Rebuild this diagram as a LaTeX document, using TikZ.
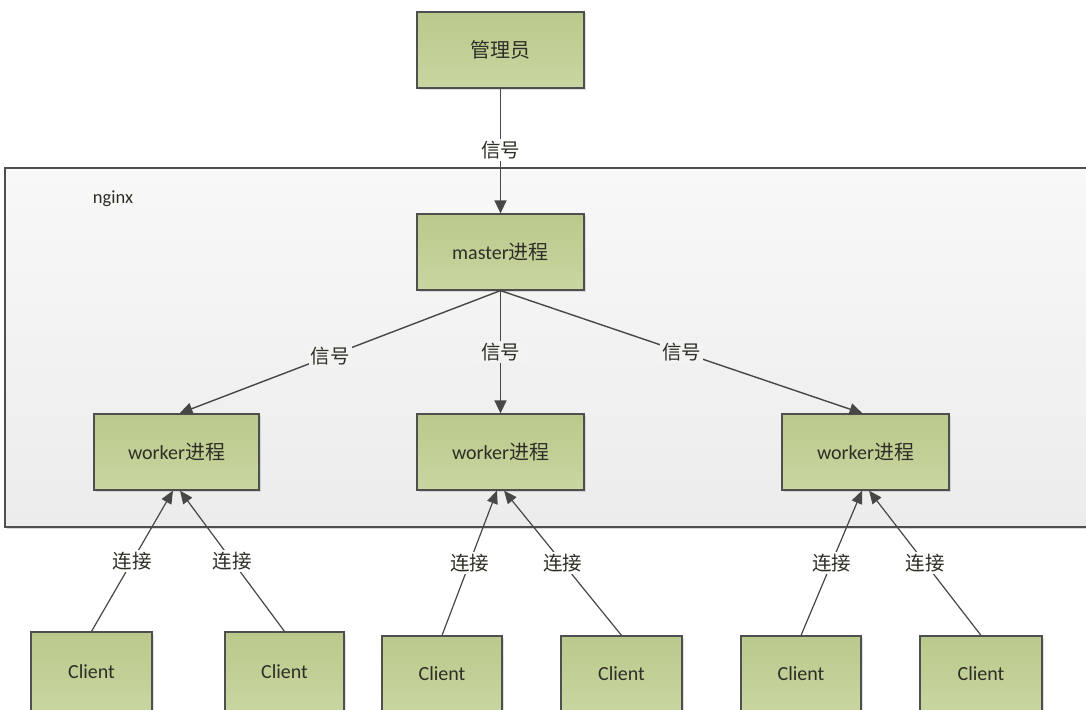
\documentclass[tikz,border=0pt]{standalone}
\usepackage{fontspec}
\setmainfont{Carlito}
\newfontfamily\cjk{Noto Sans CJK SC}
\usetikzlibrary{arrows.meta,shadows}
\definecolor{boxtop}{HTML}{BAC98B}
\definecolor{boxbot}{HTML}{C8D6A1}
\definecolor{boxline}{HTML}{4F4F4F}
\definecolor{lineclr}{HTML}{474747}
\definecolor{txt}{HTML}{2E2E26}
\definecolor{frametop}{HTML}{F8F8F8}
\definecolor{framebot}{HTML}{ECECEC}
\definecolor{framemid}{HTML}{F3F3F3}
\tikzset{
  box/.style={draw=boxline, line width=1.2pt, top color=boxtop, bottom color=boxbot,
    minimum height=76pt, inner sep=0pt, font=\fontsize{20}{22}\selectfont, text=txt,
    drop shadow={shadow xshift=1.5pt, shadow yshift=-1.5pt, opacity=0.25}},
  frame/.style={draw=boxline, line width=1.2pt, top color=frametop, bottom color=framebot,
    inner sep=0pt, drop shadow={shadow xshift=1.5pt, shadow yshift=-2pt, opacity=0.3}},
  sig/.style={draw=lineclr, line width=1.4pt, -{Triangle[length=13pt,width=12pt]}},
  conn/.style={draw=lineclr, line width=1.2pt, -{Triangle[length=13pt,width=11pt]}},
  lbl/.style={font=\fontsize{19.5}{22}\selectfont\cjk, text=txt, inner sep=2pt},
}
\begin{document}
\begin{tikzpicture}[x=1pt,y=-1pt]
\useasboundingbox (0,0) rectangle (1086,709);
\clip (0,0) rectangle (1086,709);
\fill[white] (0,0) rectangle (1086,709);
% nginx frame
\node[frame, minimum width=1100pt, minimum height=359pt] (nginxframe) at (555,347.5) {};
\node[font=\fontsize{18.5}{20}\selectfont, text=txt] (nginxlbl) at (113,199) {nginx};
% nodes
\node[box, minimum width=167pt] (admin) at (500.5,50) {{\cjk 管理员}};
\node[box, minimum width=167pt] (master) at (500.5,252) {master{\cjk 进程}};
\node[box, minimum width=165pt] (w1) at (176.5,452) {worker{\cjk 进程}};
\node[box, minimum width=167pt] (w2) at (500.5,452) {worker{\cjk 进程}};
\node[box, minimum width=167pt] (w3) at (865.5,452) {worker{\cjk 进程}};
\node[box, minimum width=121pt, minimum height=80pt] (c1) at (91.5,672) {Client};
\node[box, minimum width=119pt, minimum height=80pt] (c2) at (284.5,672) {Client};
\node[box, minimum width=120pt, minimum height=76pt] (c3) at (442,674) {Client};
\node[box, minimum width=121pt, minimum height=76pt] (c4) at (621.5,674) {Client};
\node[box, minimum width=120pt, minimum height=76pt] (c5) at (801,674) {Client};
\node[box, minimum width=122pt, minimum height=76pt] (c6) at (981,674) {Client};
% signal arrows
\draw[sig] (admin.south) -- node[lbl, fill=white, pos=0.49] (s0) {信号} (master.north);
\draw[sig] (master.south) -- node[lbl, fill=framemid, pos=0.53] (s1) {信号} ([xshift=3pt]w1.north);
\draw[sig] (master.south) -- node[lbl, fill=framemid, pos=0.5] (s2) {信号} (w2.north);
\draw[sig] (master.south) -- node[lbl, fill=framemid, pos=0.5] (s3) {信号} ([xshift=-3pt]w3.north);
% connection arrows
\draw[conn] (c1.north) -- node[lbl, fill=white, pos=0.5] (k1) {连接} ([xshift=-3.5pt]w1.south);
\draw[conn] (c2.north) -- node[lbl, fill=white, pos=0.5] (k2) {连接} ([xshift=3.5pt]w1.south);
\draw[conn] (c3.north) -- node[lbl, fill=white, pos=0.5] (k3) {连接} ([xshift=-3.5pt]w2.south);
\draw[conn] (c4.north) -- node[lbl, fill=white, pos=0.5] (k4) {连接} ([xshift=3.5pt]w2.south);
\draw[conn] (c5.north) -- node[lbl, fill=white, pos=0.5] (k5) {连接} ([xshift=-3.5pt]w3.south);
\draw[conn] (c6.north) -- node[lbl, fill=white, pos=0.5] (k6) {连接} ([xshift=3.5pt]w3.south);
\end{tikzpicture}
\end{document}
